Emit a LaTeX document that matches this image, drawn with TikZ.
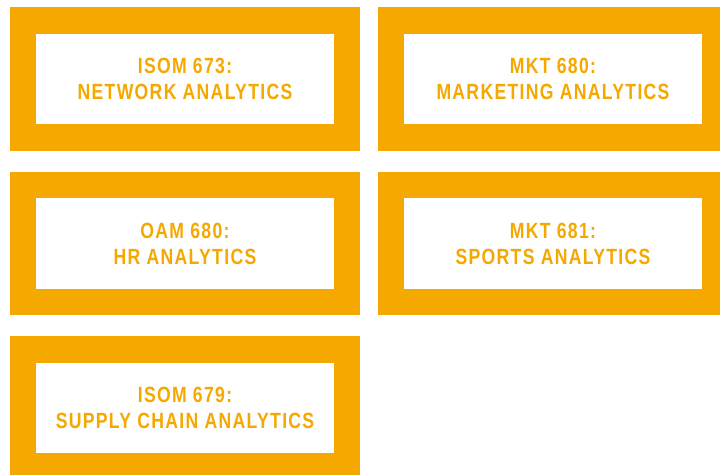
\documentclass[tikz,border=0pt]{standalone}
\usepackage{fontspec}
\newfontfamily\condfont[FakeStretch=0.8,LetterSpace=6]{Liberation Sans}
\definecolor{gold}{RGB}{245,168,0}
\tikzset{
  course/.style={draw=gold, line width=26.5pt, fill=white, minimum width=324pt, minimum height=117pt,
    inner sep=0pt, outer sep=0pt, align=center, text=gold,
    font=\condfont\bfseries\fontsize{22}{26}\selectfont}
}
\begin{document}
\begin{tikzpicture}[x=1pt,y=-1pt]
\useasboundingbox (0,0) rectangle (720,474);
\fill[white] (0,0) rectangle (720,474);
\node[course] (isom673) at (185,79) {ISOM 673:\\NETWORK ANALYTICS};
\node[course] (mkt680) at (553,79) {MKT 680:\\MARKETING ANALYTICS};
\node[course] (oam680) at (185,243.5) {OAM 680:\\HR ANALYTICS};
\node[course] (mkt681) at (553,243.5) {MKT 681:\\SPORTS ANALYTICS};
\node[course] (isom679) at (185,408) {ISOM 679:\\SUPPLY CHAIN ANALYTICS};
\end{tikzpicture}
\end{document}
